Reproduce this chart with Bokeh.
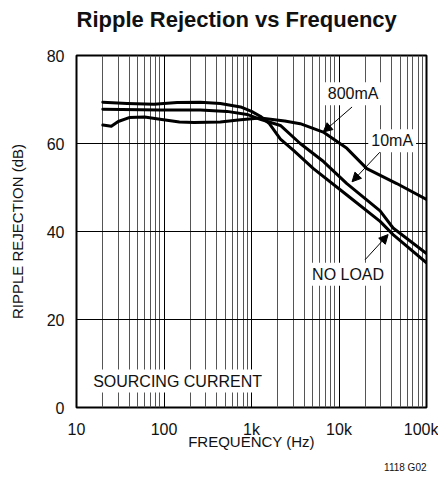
from bokeh.plotting import figure
from bokeh.models import FixedTicker, Label, Arrow, NormalHead, Title
from bokeh.embed import file_html
from bokeh.resources import INLINE

# ---- data ----
freq_noload = [20, 38, 77, 141, 260, 440, 750, 1000, 1260, 1600, 2140, 3000, 5100, 12300, 29500, 41500, 100000]
rr_noload = [69.4, 69.1, 68.9, 69.3, 69.4, 69.1, 68.3, 67.3, 66.2, 64.5, 61.0, 58.5, 54.3, 48.3, 42.3, 39.3, 32.9]

freq_10ma = [20, 90, 260, 525, 890, 1260, 2140, 3600, 6650, 12300, 29500, 41500, 100000]
rr_10ma = [67.8, 67.6, 67.6, 67.3, 66.6, 65.5, 64.1, 60.0, 55.9, 50.9, 44.7, 40.8, 35.0]

freq_800ma = [20, 25, 30, 40, 60, 90, 150, 220, 440, 750, 1260, 2400, 3600, 6600, 12300, 20800, 45700, 100000]
rr_800ma = [64.2, 63.9, 65.0, 65.9, 66.0, 65.5, 64.9, 64.8, 64.9, 65.4, 65.8, 65.1, 64.5, 62.6, 58.9, 54.3, 50.9, 47.3]

x_ticks = [10, 100, 1000, 10000, 100000]
x_tick_labels = ["10", "100", "1k", "10k", "100k"]
x_minor = [2e1, 3e1, 4e1, 5e1, 6e1, 7e1, 8e1, 9e1,
           2e2, 3e2, 4e2, 5e2, 6e2, 7e2, 8e2, 9e2,
           2e3, 3e3, 4e3, 5e3, 6e3, 7e3, 8e3, 9e3,
           2e4, 3e4, 4e4, 5e4, 6e4, 7e4, 8e4, 9e4]
y_ticks = [0, 20, 40, 60, 80]

FONT = "Liberation Sans"

p = figure(width=438, height=479, x_axis_type="log", x_range=(10, 1e5), y_range=(0, 80),
           output_backend="svg", toolbar_location=None,
           min_border_left=76, min_border_right=12, min_border_top=55, min_border_bottom=72)

# title: a blank second line keeps the first line high above the frame
p.title.text = "Ripple Rejection vs Frequency\n"
p.title.align = "left"
p.title.vertical_align = "bottom"
p.title.text_font = FONT
p.title.text_font_style = "bold"
p.title.text_font_size = "22px"
p.title.text_color = "#111111"
p.title.standoff = -2

p.outline_line_color = "black"
p.outline_line_width = 2
p.outline_line_alpha = 1.0

# x axis
p.xaxis.ticker = FixedTicker(ticks=x_ticks, minor_ticks=x_minor)
p.xaxis.major_label_overrides = {t: l for t, l in zip(x_ticks, x_tick_labels)}
p.xaxis.axis_label = "FREQUENCY (Hz)"
# y axis
p.yaxis.ticker = FixedTicker(ticks=y_ticks)
p.yaxis.axis_label = "RIPPLE REJECTION (dB)"

for ax in (p.xaxis[0], p.yaxis[0]):
    ax.axis_line_color = None
    ax.major_tick_line_color = None
    ax.minor_tick_line_color = None
    ax.major_tick_in = 0
    ax.major_tick_out = 0
    ax.minor_tick_in = 0
    ax.minor_tick_out = 0
    ax.major_label_text_font = FONT
    ax.major_label_text_font_size = "16px"
    ax.major_label_text_color = "#111111"
    ax.axis_label_text_font = FONT
    ax.axis_label_text_font_size = "15px"
    ax.axis_label_text_font_style = "normal"
    ax.axis_label_text_color = "#111111"

p.xaxis.major_label_standoff = 13
p.xaxis.axis_label_standoff = -8
p.yaxis.major_label_standoff = 12
p.yaxis.axis_label_standoff = 18

# grids
p.xgrid.ticker = FixedTicker(ticks=x_ticks, minor_ticks=x_minor)
p.xgrid.grid_line_color = "black"
p.xgrid.grid_line_width = 1
p.xgrid.minor_grid_line_color = "#555555"
p.xgrid.minor_grid_line_width = 1
p.ygrid.ticker = FixedTicker(ticks=y_ticks)
p.ygrid.grid_line_color = "black"
p.ygrid.grid_line_width = 1

# curves
for fx, ry in ((freq_noload, rr_noload), (freq_10ma, rr_10ma), (freq_800ma, rr_800ma)):
    p.line(fx, ry, line_width=3, color="black", line_join="round", line_cap="round")

# annotations
def add_label(x, y, text):
    p.add_layout(Label(x=x, y=y, text=text, text_align="center", text_baseline="middle",
                       text_font=FONT, text_font_size="16px", text_color="#111111",
                       background_fill_color="white", padding=3))

def add_arrow(x0, y0, x1, y1):
    p.add_layout(Arrow(x_start=x0, y_start=y0, x_end=x1, y_end=y1, line_width=1, line_color="black",
                       end=NormalHead(size=9, fill_color="black", line_color="black")))

add_arrow(14100, 68.3, 6600, 62.6)
add_arrow(29500, 58.1, 14100, 51.3)
add_arrow(19900, 33.6, 36400, 39.3)
add_label(14500, 71.3, "800mA")
add_label(40500, 60.6, "10mA")
add_label(12700, 30.3, "NO LOAD")
add_label(143, 6.0, "SOURCING CURRENT")

p.add_layout(Title(text="1118 G02", align="right", text_font=FONT, text_font_size="10px",
                   text_font_style="normal", text_color="#111111", standoff=14), "below")

open("out.html", "w").write(file_html(p, INLINE))
